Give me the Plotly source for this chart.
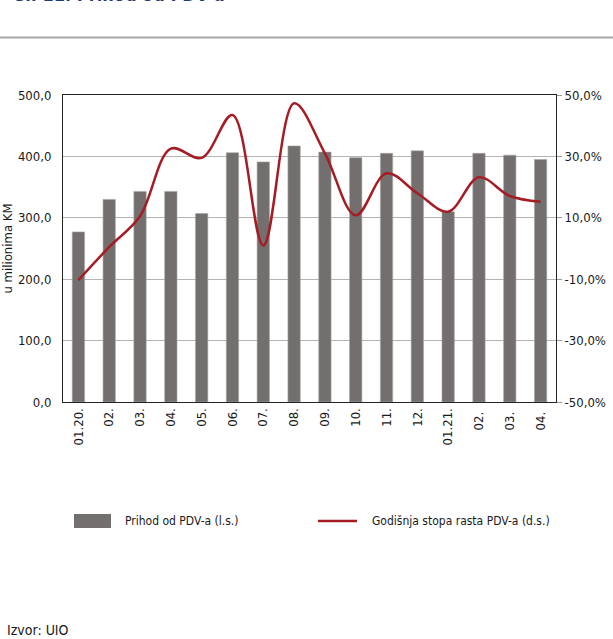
import plotly.graph_objects as go

categories = ["01.20.", "02.", "03.", "04.", "05.", "06.", "07.", "08.", "09.", "10.", "11.", "12.",
              "01.21.", "02. ", "03. ", "04. "]
vat_revenue = [277, 330, 343, 343, 307, 406, 391, 417, 407, 398, 405, 409, 310, 405, 402, 395]
vat_growth = [-10.3, 0.5, 10.5, 32.5, 29.5, 43.5, 1.0, 47.3, 31.0, 10.8, 24.5, 18.0, 12.0, 23.2, 17.1, 15.2]

left_ticks = [0, 100, 200, 300, 400, 500]
left_labels = ["0,0", "100,0", "200,0", "300,0", "400,0", "500,0"]
right_ticks = [-50, -30, -10, 10, 30, 50]
right_labels = ["-50,0%", "-30,0%", "-10,0%", "10,0%", "30,0%", "50,0%"]

FONT = "DejaVu Sans Condensed, Liberation Sans Narrow, sans-serif"
BAR_C = "#736f6e"
LINE_C = "#a51c24"

W, H = 613, 639
L, R, T, B = 63, 556, 95, 402
pw, ph = R - L, B - T

def px(x):
    return (x - L) / pw

def py(y):
    return (B - y) / ph

fig = go.Figure()
fig.add_trace(go.Bar(x=categories, y=vat_revenue, width=0.4,
                     marker=dict(color=BAR_C, line=dict(color="#a8a4a3", width=0.6)),
                     name="Prihod od PDV-a (l.s.)", showlegend=False))
fig.add_trace(go.Scatter(x=categories, y=vat_growth, yaxis="y2", mode="lines",
                         line=dict(color=LINE_C, width=2.5, shape="spline", smoothing=1.0),
                         name="Godišnja stopa rasta PDV-a (d.s.)", showlegend=False))

fig.update_layout(
    width=W, height=H,
    margin=dict(l=L, r=W - R, t=T, b=H - B, pad=0),
    paper_bgcolor="white", plot_bgcolor="white",
    font=dict(family=FONT, size=13, color="#1a1a1a"),
    xaxis=dict(type="category", tickangle=-90, showgrid=False, showline=True, linecolor="#222", linewidth=1,
               mirror=True, ticks="", tickfont=dict(size=13), automargin=False),
    yaxis=dict(range=[0, 500], tickvals=left_ticks, ticktext=left_labels, showgrid=True, gridcolor="#b3b3b3",
               gridwidth=1, showline=True, linecolor="#222", linewidth=1, zeroline=False, ticks="",
               ticklabelstandoff=8,
               title=dict(text="u milionima KM", font=dict(size=13), standoff=2), automargin=False),
    yaxis2=dict(range=[-50, 50], tickvals=right_ticks, ticktext=right_labels, overlaying="y", side="right",
                showgrid=False, showline=True, linecolor="#222", linewidth=1, zeroline=False,
                ticks="outside", ticklen=5, tickcolor="#999", automargin=False),
    title=dict(text="<b>Gr. 11. Prihod od PDV-a</b>", x=12 / W, xanchor="left", y=1 - 1 / H, yanchor="bottom",
               xref="container", yref="container", font=dict(family=FONT, size=18, color="#1f3c72")),
)

# top separator rule
fig.add_shape(type="line", xref="paper", yref="paper", x0=px(0), x1=px(W), y0=py(37.5), y1=py(37.5),
              line=dict(color="#a9a9a9", width=2))

# legend (manual)
fig.add_shape(type="rect", xref="paper", yref="paper", x0=px(74), x1=px(111), y0=py(528), y1=py(514),
              fillcolor=BAR_C, line=dict(width=0))
fig.add_annotation(xref="paper", yref="paper", x=px(123), y=py(521), text="Prihod od PDV-a (l.s.)",
                   showarrow=False, xanchor="left", yanchor="middle", font=dict(size=12))
fig.add_shape(type="line", xref="paper", yref="paper", x0=px(318), x1=px(357), y0=py(521), y1=py(521),
              line=dict(color=LINE_C, width=2.5))
fig.add_annotation(xref="paper", yref="paper", x=px(370), y=py(521), text="Godišnja stopa rasta PDV-a (d.s.)",
                   showarrow=False, xanchor="left", yanchor="middle", font=dict(size=12))

# source
fig.add_annotation(xref="paper", yref="paper", x=px(5), y=py(630), text="Izvor: UIO",
                   showarrow=False, xanchor="left", yanchor="middle", font=dict(size=14))

fig.write_html("out.html", config={"displayModeBar": False},
               post_script="document.body.style.margin='0';document.body.style.padding='0';")
